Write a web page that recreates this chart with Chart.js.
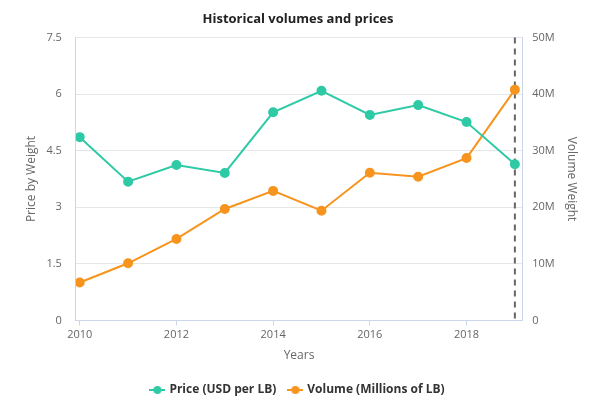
<!DOCTYPE html>
<html>
<head>
<meta charset="utf-8">
<script src="https://cdn.jsdelivr.net/npm/chart.js@4/dist/chart.umd.min.js"></script>
<style>
html,body{margin:0;padding:0;background:#fff;}
#wrap{width:600px;height:399px;}
</style>
</head>
<body>
<div id="wrap"><canvas id="c" width="600" height="399"></canvas></div>
<script>
const years = [2010, 2011, 2012, 2013, 2014, 2015, 2016, 2017, 2018, 2019];
const priceValues = [4.86, 3.68, 4.12, 3.91, 5.52, 6.09, 5.45, 5.71, 5.26, 4.14];
const volumeValues = [6.7, 10.1, 14.4, 19.7, 22.9, 19.4, 26.1, 25.4, 28.7, 40.8];
const xTickLabels = [2010, 2012, 2014, 2016, 2018];
const priceTicks = [0, 1.5, 3, 4.5, 6, 7.5];
const volumeTicks = [0, 10, 20, 30, 40, 50];
const markerYear = 2019;

const TEAL = '#2ecaa6';
const ORANGE = '#f7941d';
const FONT = "'Open Sans', 'DejaVu Sans', sans-serif";

function legendIcon(color){
  const c = document.createElement('canvas');
  c.width = 16; c.height = 10;
  const g = c.getContext('2d');
  g.strokeStyle = color; g.lineWidth = 2;
  g.beginPath(); g.moveTo(0,5); g.lineTo(16,5); g.stroke();
  g.fillStyle = color;
  g.beginPath(); g.arc(8,5,4,0,Math.PI*2); g.fill();
  return c;
}

const markerLine = {
  id: 'markerLine',
  beforeDatasetsDraw(chart){
    const x = chart.scales.x.getPixelForValue(markerYear);
    const a = chart.chartArea;
    const ctx = chart.ctx;
    ctx.save();
    ctx.strokeStyle = '#666';
    ctx.lineWidth = 2;
    ctx.setLineDash([6,5]);
    ctx.beginPath();
    ctx.moveTo(x, a.top);
    ctx.lineTo(x, a.bottom);
    ctx.stroke();
    ctx.restore();
  }
};

new Chart(document.getElementById('c'), {
  type: 'line',
  data: {
    datasets: [
      {
        label: 'Price (USD per LB)',
        data: years.map((y,i)=>({x:y, y:priceValues[i]})),
        borderColor: TEAL, backgroundColor: TEAL,
        borderWidth: 2, pointRadius: 4, pointHoverRadius: 4,
        yAxisID: 'y', tension: 0
      },
      {
        label: 'Volume (Millions of LB)',
        data: years.map((y,i)=>({x:y, y:volumeValues[i]})),
        borderColor: ORANGE, backgroundColor: ORANGE,
        borderWidth: 2, pointRadius: 4, pointHoverRadius: 4,
        yAxisID: 'y2', tension: 0
      }
    ]
  },
  options: {
    responsive: false,
    animation: false,
    layout: { padding: { left: 24, right: 28, top: 0, bottom: -7 } },
    plugins: {
      title: {
        display: true,
        text: 'Historical volumes and prices',
        color: '#222',
        font: { family: FONT, size: 13, weight: 'bold' },
        padding: { top: 11, bottom: 11 }
      },
      legend: {
        position: 'bottom',
        labels: {
          usePointStyle: true,
          color: '#333',
          font: { family: FONT, size: 12, weight: 'bold' },
          boxHeight: 10,
          padding: 13,
          generateLabels(chart){
            return chart.data.datasets.map((d,i)=>({
              text: d.label,
              pointStyle: legendIcon(d.borderColor),
              fillStyle: d.borderColor,
              strokeStyle: d.borderColor,
              lineWidth: 0,
              hidden: false,
              datasetIndex: i,
              fontColor: '#333'
            }));
          }
        }
      },
      tooltip: { enabled: false }
    },
    scales: {
      x: {
        type: 'linear',
        min: 2009.92,
        max: 2019.15,
        afterBuildTicks(scale){ scale.ticks = xTickLabels.map(v=>({value:v})); },
        grid: { display: true, drawOnChartArea: false, drawTicks: true, tickLength: 5, color: '#ccd6eb' },
        border: { display: true, color: '#ccd6eb', width: 1 },
        ticks: { color: '#666', font: { family: FONT, size: 11 }, padding: 3, maxRotation: 0,
          callback: v => String(v) },
        title: { display: true, text: 'Years', color: '#666', font: { family: FONT, size: 12 }, padding: { top: 4, bottom: 8 } }
      },
      y: {
        position: 'left',
        min: 0, max: 7.5,
        afterBuildTicks(scale){ scale.ticks = priceTicks.map(v=>({value:v})); },
        grid: { color: '#e6e6e6', drawTicks: false },
        border: { display: true, color: '#ccd6eb' },
        ticks: { color: '#666', font: { family: FONT, size: 11 }, padding: 14,
          callback: v => String(v) },
        title: { display: true, text: 'Price by Weight', color: '#666', font: { family: FONT, size: 12 }, padding: { top: 0, bottom: -6 } }
      },
      y2: {
        position: 'right',
        min: 0, max: 50,
        afterBuildTicks(scale){ scale.ticks = volumeTicks.map(v=>({value:v})); },
        grid: { display: false, drawTicks: false },
        border: { display: true, color: '#ccd6eb' },
        ticks: { color: '#666', font: { family: FONT, size: 11 }, padding: 10,
          callback: v => v === 0 ? '0' : v + 'M' },
        title: { display: true, text: 'Volume Weight', color: '#666', font: { family: FONT, size: 12 }, padding: { top: -7, bottom: 0 } }
      }
    }
  },
  plugins: [markerLine]
});
</script>
</body>
</html>
